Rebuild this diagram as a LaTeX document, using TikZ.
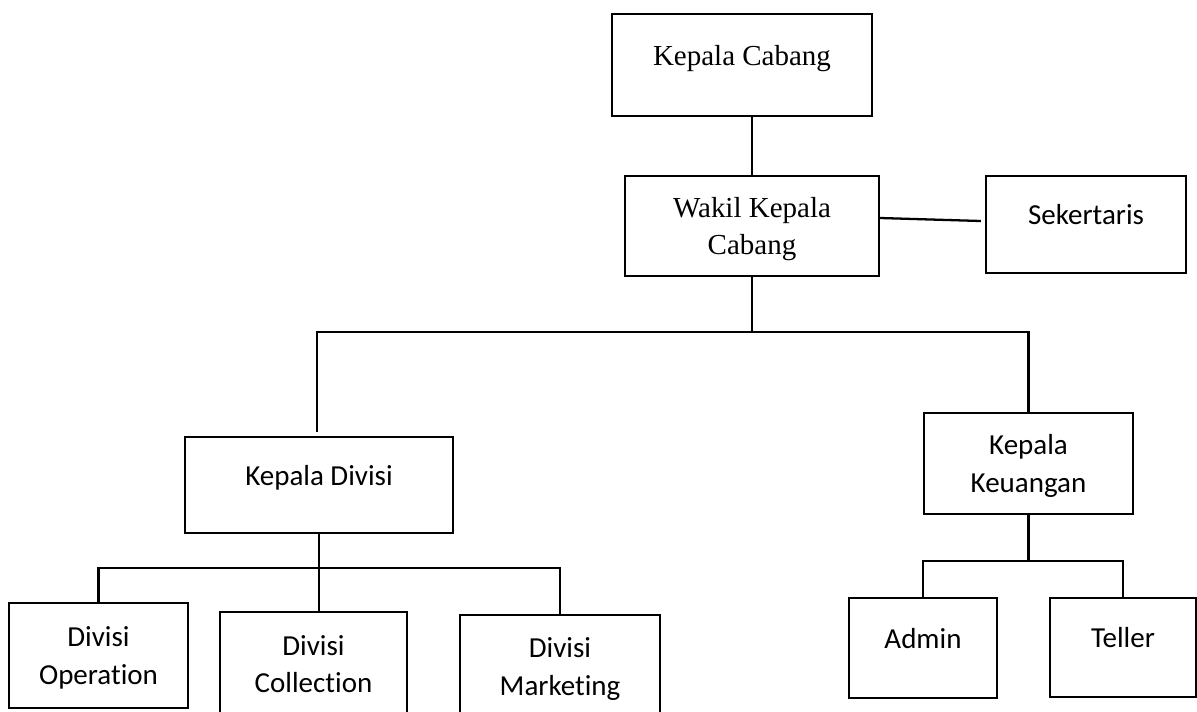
\documentclass[tikz,border=0pt]{standalone}
\usepackage{fontspec}
\setmainfont{Liberation Serif}
\newfontfamily\sansfont[Ligatures=NoCommon]{Carlito}
\usetikzlibrary{calc}

\tikzset{
  unit/.style={draw, line width=1.4pt, inner sep=0pt, align=center},
  serifunit/.style={unit, font=\fontsize{16.5}{21.5}\selectfont},
  sansunit/.style={unit, font=\sansfont\fontsize{16.5}{21.5}\selectfont},
  oneline/.style={text height=12pt, text depth=12pt},
  twoline/.style={text depth=0pt},
  link/.style={line width=1.3pt}
}

\begin{document}
\begin{tikzpicture}[x=0.02cm, y=-0.02cm]
\useasboundingbox (0,0) rectangle (1197,711);

\node[serifunit, oneline, minimum width=5.2cm, minimum height=2.04cm] (kc) at (742,65) {Kepala Cabang};
\node[serifunit, twoline, minimum width=5.08cm, minimum height=2cm] (wk) at (752,226) {Wakil Kepala\\Cabang};
\node[sansunit, oneline, minimum width=4cm, minimum height=1.94cm] (sk) at (1086,224.5) {Sekertaris};

\node[sansunit, oneline, minimum width=5.36cm, minimum height=1.92cm] (kd) at (319,485) {Kepala Divisi};
\node[sansunit, twoline, minimum width=4.18cm, minimum height=2.02cm] (kk) at (1028.5,463.5) {Kepala\\Keuangan};

\node[sansunit, twoline, minimum width=3.58cm, minimum height=2.1cm] (do) at (98.5,655.5) {Divisi\\Operation};
\node[sansunit, twoline, minimum width=3.74cm, minimum height=2.08cm] (dc) at (313.5,664) {Divisi\\Collection};
\node[sansunit, twoline, minimum width=4cm, minimum height=2.06cm] (dm) at (560,666.5) {Divisi\\Marketing};

\node[sansunit, oneline, minimum width=2.96cm, minimum height=2cm] (ad) at (923,648) {Admin};
\node[sansunit, oneline, minimum width=2.92cm, minimum height=1.98cm] (tl) at (1123,647.5) {Teller};

\coordinate (bus) at (753,332);
\coordinate (div) at (317,568);
\coordinate (fin) at (1027,561);

\draw[link] (kc.south -| wk.north) -- (wk.north);
\draw[link] ($(wk.east)+(0,-8)$) -- ($(sk.west)+(-4,-3.5)$);
\draw[link] (wk.south) -- (wk.south |- bus);
\draw[link] ($(kd.north)+(-2,-4)$) |- (bus) -| (kk.north);

\draw[link] (kd.south) -- (kd.south |- dc.north);
\draw[link] (do.north) |- (div) -| (dm.north);

\draw[link] (kk.south) -- (kk.south |- fin);
\draw[link] (ad.north) |- (fin) -| (tl.north);
\end{tikzpicture}
\end{document}
